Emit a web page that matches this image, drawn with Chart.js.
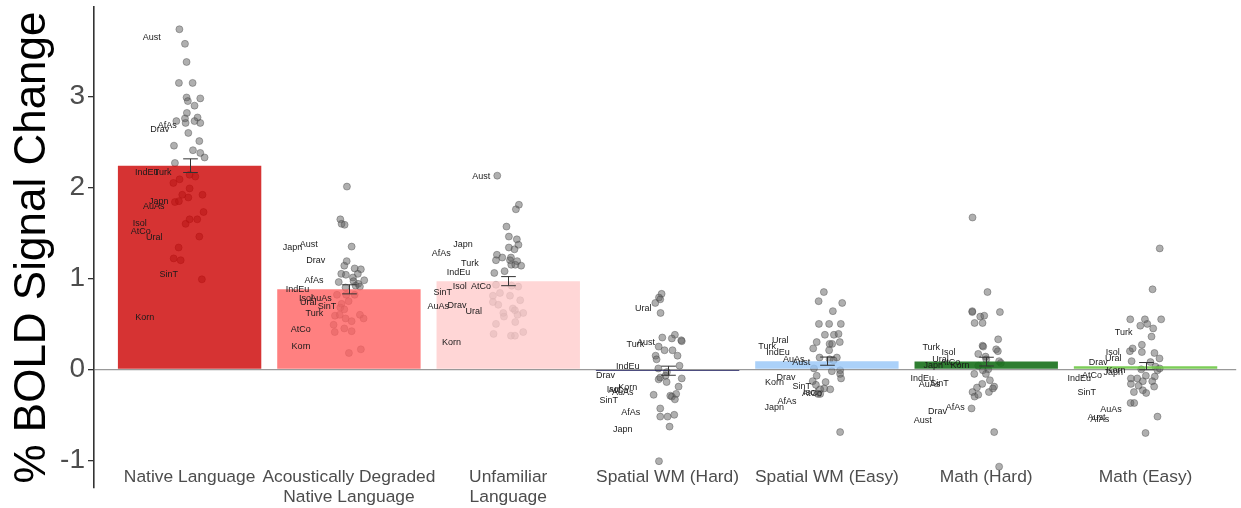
<!DOCTYPE html>
<html>
<head>
<meta charset="utf-8">
<script src="https://cdn.jsdelivr.net/npm/chart.js@4.4.0/dist/chart.umd.min.js"></script>
<style>
html, body { margin: 0; padding: 0; background: #fff; }
#wrap { width: 1241px; height: 508px; }
</style>
</head>
<body>
<div id="wrap"><canvas id="boldchart"></canvas></div>
<script>
var conditions = ["Native Language", "Acoustically Degraded Native Language", "Unfamiliar Language",
    "Spatial WM (Hard)", "Spatial WM (Easy)", "Math (Hard)", "Math (Easy)"]
var condLabels = [["Native Language"], ["Acoustically Degraded", "Native Language"], ["Unfamiliar", "Language"],
    ["Spatial WM (Hard)"], ["Spatial WM (Easy)"], ["Math (Hard)"], ["Math (Easy)"]]
var meanBold = [2.24, 0.88, 0.97, -0.015, 0.09, 0.085, 0.035]
var semBold = [0.075, 0.05, 0.05, 0.05, 0.045, 0.048, 0.04]
var yTicks = [-1, 0, 1, 2, 3]
var barColors = ['rgba(204,0,0,0.8)', 'rgba(255,96,96,0.8)', 'rgba(255,204,204,0.8)',
    'rgba(15,15,85,0.95)', 'rgba(150,198,247,0.8)', 'rgba(23,112,27,0.9)', 'rgba(110,200,70,0.9)']

var langs = ["Aust", "AfAs", "Drav", "IndEu", "Turk", "Japn", "AuAs", "Isol", "AtCo", "Ural", "SinT", "Korn"]

// individual participants: [jitter, value]
var ptsNative = [[-0.064,3.74],[-0.029,3.58],[-0.019,3.38],[-0.067,3.15],[0.019,3.15],[-0.019,2.99],[-0.011,2.95],
    [0.067,2.98],[0.031,2.90],[-0.017,2.82],[-0.029,2.76],[0.05,2.77],[-0.083,2.73],[-0.025,2.71],[0.031,2.73],
    [0.067,2.71],[-0.008,2.60],[0.061,2.51],[-0.098,2.46],[0.021,2.41],[0.067,2.38],[0.094,2.33],[-0.092,2.27],
    [-0.102,2.05],[-0.063,2.09],[0,2.14],[0.036,2.12],[0,1.99],[-0.046,1.92],[-0.008,1.89],[0.081,1.92],
    [-0.092,1.84],[-0.067,1.85],[0.0875,1.73],[0,1.65],[0.048,1.65],[-0.025,1.60],[0.061,1.46],[-0.069,1.34],
    [-0.1,1.22],[-0.056,1.20],[0.077,0.99]]
var ptsDegraded = [[-0.0125,2.01],[-0.054,1.65],[-0.046,1.60],[-0.027,1.59],[0.017,1.35],[-0.014,1.19],[-0.029,1.14],
    [0.036,1.11],[0.075,1.10],[-0.048,1.05],[-0.019,1.04],[0.056,1.05],[0.025,1.01],[0.096,0.98],[-0.064,0.96],
    [0.029,0.97],[0.058,0.94],[0.042,0.92],[0.069,0.91],[-0.021,0.90],[-0.075,0.82],[-0.017,0.82],[0.036,0.82],
    [-0.002,0.75],[-0.046,0.72],[-0.054,0.68],[-0.029,0.66],[-0.0875,0.59],[-0.058,0.60],[-0.021,0.56],[0.069,0.60],
    [0.092,0.56],[0.017,0.53],[-0.096,0.49],[-0.029,0.45],[-0.089,0.41],[0.017,0.42],[0.075,0.22],[0,0.18]]
var ptsUnfamiliar = [[-0.069,2.13],[0.067,1.81],[0.048,1.76],[-0.011,1.57],[0.004,1.46],[0.054,1.43],[0.064,1.37],
    [0.004,1.34],[0.039,1.32],[-0.071,1.26],[-0.0375,1.23],[0.017,1.23],[-0.077,1.20],[0.011,1.20],[0.056,1.19],
    [0.019,1.15],[0.044,1.15],[0.081,1.14],[-0.0875,1.06],[-0.023,1.08],[-0.077,0.93],[0.021,0.92],[0.0625,0.91],
    [-0.052,0.84],[0.011,0.81],[-0.096,0.81],[0.075,0.76],[-0.096,0.74],[-0.0625,0.71],[0.029,0.67],[0.042,0.65],
    [-0.031,0.62],[-0.027,0.58],[0.058,0.60],[0.094,0.62],[0.044,0.52],[-0.077,0.50],[-0.092,0.39],[0.017,0.37],
    [0.042,0.37],[0.094,0.41]]
var ptsWMHard = [[-0.0375,0.83],[-0.054,0.79],[-0.046,0.77],[-0.077,0.73],[-0.044,0.62],[0.046,0.38],[-0.033,0.35],
    [0.027,0.34],[0.086,0.32],[0.089,0.31],[-0.056,0.25],[-0.019,0.21],[0.031,0.21],[-0.075,0.15],[-0.069,0.11],
    [0.0625,0.15],[-0.058,0.01],[0.075,0.04],[-0.004,-0.03],[-0.056,-0.11],[-0.046,-0.09],[-0.0125,-0.07],
    [-0.006,-0.14],[0.089,-0.10],[0.069,-0.19],[-0.0875,-0.28],[0.017,-0.29],[0.027,-0.30],[0.054,-0.27],
    [0.046,-0.33],[-0.046,-0.43],[-0.046,-0.52],[0,-0.52],[0.042,-0.50],[0.0125,-0.63],[-0.054,-1.01]]
var ptsWMEasy = [[-0.019,0.85],[-0.052,0.75],[0.096,0.73],[0.0375,0.64],[-0.05,0.50],[0.014,0.50],[0.0875,0.50],
    [-0.0125,0.38],[0.044,0.38],[0.073,0.39],[-0.064,0.30],[0.017,0.28],[0.033,0.28],[0.081,0.30],[-0.086,0.23],
    [0.014,0.21],[-0.046,0.13],[0.0625,0.13],[0.017,0.11],[0.042,0.10],[-0.081,0.01],[0.031,-0.02],[0.083,-0.01],
    [0.083,-0.05],[0.089,-0.10],[-0.064,-0.07],[-0.089,-0.13],[-0.008,-0.14],[-0.069,-0.17],[-0.017,-0.21],
    [-0.042,-0.22],[0.021,-0.22],[-0.056,-0.27],[-0.042,-0.27],[0.083,-0.69]]
var ptsMathHard = [[-0.086,1.67],[0.008,0.85],[-0.0875,0.64],[-0.0875,0.63],[0.086,0.63],[-0.0375,0.58],[-0.0125,0.59],
    [-0.073,0.51],[-0.023,0.51],[0.075,0.33],[-0.023,0.26],[-0.019,0.25],[0.0625,0.22],[0.073,0.20],[-0.05,0.17],
    [-0.004,0.14],[0,0.11],[0.081,0.09],[0.092,0.07],[-0.05,0.04],[0.0125,0.00],[-0.021,-0.01],[-0.075,-0.05],
    [-0.002,-0.05],[0.023,-0.12],[-0.025,-0.16],[0.05,-0.19],[0.042,-0.21],[-0.058,-0.20],[-0.086,-0.25],
    [-0.073,-0.30],[-0.05,-0.28],[0.017,-0.25],[-0.092,-0.43],[0.05,-0.69],[0.081,-1.07]]
var ptsMathEasy = [[0.089,1.33],[0.044,0.88],[-0.096,0.55],[-0.004,0.55],[0.011,0.50],[0.098,0.55],[-0.033,0.48],
    [0.048,0.45],[0.0375,0.36],[-0.081,0.23],[-0.023,0.27],[-0.098,0.20],[-0.023,0.19],[0.056,0.18],[0.0875,0.12],
    [-0.0875,0.09],[0.031,0.08],[0.0625,0.03],[0.075,-0.01],[0.089,0.01],[-0.027,0.00],[-0.092,-0.10],[-0.052,-0.10],
    [0.002,-0.07],[0.058,-0.08],[-0.092,-0.16],[-0.044,-0.18],[0.042,-0.13],[0.054,-0.19],[-0.017,-0.13],
    [-0.073,-0.25],[-0.017,-0.23],[0.004,-0.26],[-0.094,-0.37],[-0.071,-0.37],[0.075,-0.52],[0,-0.70]]

// language family averages, in the order of langs: [offset, value]
var labNative = [[-0.238,3.65],[-0.141,2.68],[-0.188,2.64],[-0.269,2.16],[-0.169,2.16],[-0.194,1.85],
    [-0.225,1.79],[-0.313,1.60],[-0.306,1.52],[-0.222,1.45],[-0.131,1.04],[-0.281,0.57]]
var labDegraded = [[-0.252,1.37],[-0.219,0.98],[-0.208,1.20],[-0.323,0.88],[-0.217,0.61],[-0.354,1.34],
    [-0.175,0.78],[-0.269,0.78],[-0.303,0.44],[-0.256,0.74],[-0.1375,0.69],[-0.30,0.25]]
var labUnfamiliar = [[-0.169,2.12],[-0.421,1.27],[-0.322,0.70],[-0.3125,1.07],[-0.241,1.16],[-0.284,1.37],
    [-0.439,0.69],[-0.304,0.91],[-0.171,0.91],[-0.216,0.64],[-0.411,0.84],[-0.356,0.30]]
var labWMHard = [[-0.136,0.30],[-0.231,-0.48],[-0.389,-0.07],[-0.25,0.03],[-0.202,0.27],[-0.281,-0.66],
    [-0.281,-0.26],[-0.3375,-0.22],[-0.31,-0.23],[-0.153,0.67],[-0.369,-0.34],[-0.25,-0.20]]
var labWMEasy = [[-0.161,0.07],[-0.25,-0.35],[-0.256,-0.09],[-0.3075,0.19],[-0.375,0.25],[-0.331,-0.42],
    [-0.208,0.11],[-0.106,-0.26],[-0.094,-0.27],[-0.292,0.32],[-0.158,-0.19],[-0.329,-0.14]]
var labMathHard = [[-0.398,-0.56],[-0.194,-0.42],[-0.306,-0.46],[-0.401,-0.10],[-0.345,0.24],[-0.333,0.04],
    [-0.356,-0.17],[-0.2375,0.18],[-0.225,0.08],[-0.2875,0.11],[-0.294,-0.16],[-0.164,0.04]]
var labMathEasy = [[-0.308,-0.53],[-0.2875,-0.55],[-0.297,0.07],[-0.416,-0.10],[-0.1375,0.40],[-0.202,-0.04],
    [-0.217,-0.44],[-0.206,0.18],[-0.336,-0.07],[-0.202,0.12],[-0.369,-0.26],[-0.186,-0.01]]

var ptSets = [ptsNative, ptsDegraded, ptsUnfamiliar, ptsWMHard, ptsWMEasy, ptsMathHard, ptsMathEasy]
var labSets = [labNative, labDegraded, labUnfamiliar, labWMHard, labWMEasy, labMathHard, labMathEasy]

var fontFam = '"Liberation Sans", Arial, sans-serif'

var overlay = {
    id: 'overlay',
    afterDatasetsDraw(chart) {
        const { ctx, chartArea } = chart
        const x = chart.scales.x, y = chart.scales.y
        ctx.save()
        // error bars
        ctx.strokeStyle = '#333'
        ctx.lineWidth = 1
        const hw = x.getPixelForValue(1.046) - x.getPixelForValue(1)
        meanBold.forEach((m, i) => {
            const cx = Math.round(x.getPixelForValue(i + 1)) + 0.5
            const t = y.getPixelForValue(m + semBold[i])
            const b = y.getPixelForValue(m - semBold[i])
            ctx.beginPath()
            ctx.moveTo(cx, t); ctx.lineTo(cx, b)
            ctx.moveTo(cx - hw, t); ctx.lineTo(cx + hw, t)
            ctx.moveTo(cx - hw, b); ctx.lineTo(cx + hw, b)
            ctx.stroke()
        })
        // language family labels
        ctx.font = '9px ' + fontFam
        ctx.fillStyle = '#1a1a1a'
        ctx.textAlign = 'center'
        ctx.textBaseline = 'middle'
        labSets.forEach((set, i) => {
            set.forEach((p, k) => {
                ctx.fillText(langs[k], x.getPixelForValue(i + 1 + p[0]), y.getPixelForValue(p[1]))
            })
        })
        // condition labels
        ctx.font = '17.4px ' + fontFam
        ctx.fillStyle = '#4d4d4d'
        ctx.textBaseline = 'alphabetic'
        condLabels.forEach((lines, i) => {
            lines.forEach((txt, k) => {
                ctx.fillText(txt, x.getPixelForValue(i + 1), chartArea.bottom - 6.5 + k * 20.7)
            })
        })
        ctx.restore()
    }
}

var datasets = [{
    type: 'bar',
    label: 'mean',
    data: meanBold.map((m, i) => ({ x: i + 1, y: m })),
    backgroundColor: barColors,
    borderWidth: 0,
    categoryPercentage: 1,
    barPercentage: 0.9,
    order: 0
}]
ptSets.forEach((pts, i) => {
    datasets.push({
        type: 'scatter',
        label: conditions[i],
        data: pts.map(p => ({ x: i + 1 + p[0], y: p[1] })),
        pointRadius: 3.5,
        pointBackgroundColor: 'rgba(95,95,95,0.5)',
        pointBorderColor: 'rgba(70,70,70,0.5)',
        pointBorderWidth: 0.8,
        order: 1
    })
})

var chartBold = new Chart(document.getElementById('boldchart'), {
    type: 'bar',
    data: { datasets: datasets },
    plugins: [overlay],
    options: {
        responsive: true,
        maintainAspectRatio: false,
        animation: false,
        layout: { padding: { top: 7, bottom: 20, left: 0, right: 0 } },
        plugins: { legend: { display: false }, tooltip: { enabled: false } },
        scales: {
            x: {
                type: 'linear',
                min: 0.4,
                max: 7.569,
                offset: false,
                display: false,
                afterBuildTicks: s => { s.ticks = conditions.map((c, i) => ({ value: i + 1 })) }
            },
            y: {
                min: -1.305,
                max: 3.985,
                afterBuildTicks: s => { s.ticks = yTicks.map(v => ({ value: v })) },
                afterFit: s => { s.width = 94; s.paddingTop = 0; s.paddingBottom = 0 },
                border: { display: true, color: '#333', width: 1.6 },
                grid: {
                    color: c => (c.tick && c.tick.value === 0) ? '#999' : 'rgba(0,0,0,0)',
                    tickColor: '#333',
                    tickLength: 6,
                    lineWidth: 1.3
                },
                ticks: { font: { family: fontFam, size: 28 }, color: '#4d4d4d', padding: 3 },
                title: {
                    display: true,
                    text: '% BOLD Signal Change',
                    color: '#000',
                    font: { family: fontFam, size: 44, lineHeight: 1 },
                    padding: { top: 11, bottom: 0 }
                }
            }
        }
    }
})
</script>
</body>
</html>
